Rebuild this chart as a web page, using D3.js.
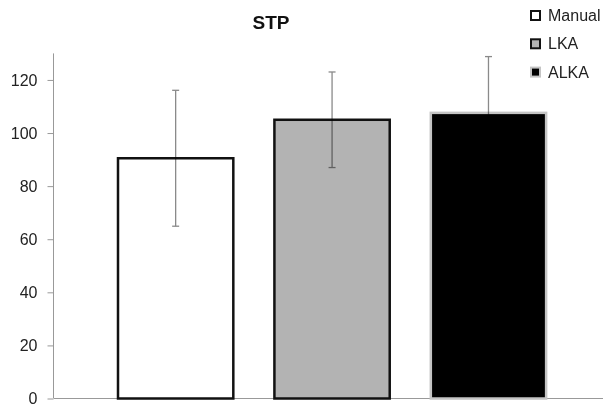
<!DOCTYPE html>
<html><head><meta charset="utf-8">
<script src="https://cdn.jsdelivr.net/npm/d3@7"></script>
<style>body{margin:0;background:#fff}svg{display:block;font-family:"Liberation Sans",Arial,sans-serif}</style>
</head><body><svg id="c" width="603" height="404"></svg>
<script>
const categories = ["Manual", "LKA", "ALKA"];
const means = [90.5, 105, 107.6];
const errors = [25.6, 18, 21.2];
const yTicks = [0, 20, 40, 60, 80, 100, 120];
const fills = ["#ffffff", "#b3b3b3", "#000000"];
const strokes = ["#111111", "#111111", "#c4c4c4"];

const svg = d3.select("#c");
const y = d3.scaleLinear().domain([0, 130]).range([398.5, 53.4]);
const x = d3.scaleBand().domain(categories).range([54, 603])
  .paddingInner(0.25).paddingOuter(0.38).align(0.53);

// y axis
const yAxis = svg.append("g").attr("transform", "translate(53.5,0)")
  .call(d3.axisLeft(y).tickValues(yTicks).tickSize(6).tickPadding(10));
yAxis.select(".domain").attr("stroke", "#999").attr("d", `M0,${y(130)}V${y(0)}`);
yAxis.selectAll(".tick line").attr("stroke", "#999");
yAxis.selectAll(".tick text").attr("font-size", 16).attr("fill", "#222")
  .attr("font-family", "Liberation Sans, Arial, sans-serif").attr("dy", "0.34em");

// x axis line
svg.append("line").attr("x1", 54).attr("x2", 603).attr("y1", y(0)).attr("y2", y(0))
  .attr("stroke", "#999");

// bars
svg.selectAll("rect.bar").data(categories).enter().append("rect")
  .attr("class", "bar")
  .attr("x", d => x(d) + 1)
  .attr("width", x.bandwidth() - 2)
  .attr("y", (d, i) => y(means[i]))
  .attr("height", (d, i) => y(0) - y(means[i]))
  .attr("fill", (d, i) => fills[i])
  .attr("stroke", (d, i) => strokes[i])
  .attr("stroke-width", 2.5);

// error bars (multiply blend: hidden over black, darker over grey)
const eg = svg.selectAll("g.err").data(categories).enter().append("g").attr("class", "err")
  .style("mix-blend-mode", "multiply");
eg.append("line")
  .attr("x1", d => x(d) + x.bandwidth() / 2).attr("x2", d => x(d) + x.bandwidth() / 2)
  .attr("y1", (d, i) => y(means[i] + errors[i])).attr("y2", (d, i) => y(means[i] - errors[i]))
  .attr("stroke", "#8a8a8a").attr("stroke-width", 1.3);
[1, -1].forEach(s => {
  eg.append("line")
    .attr("x1", d => x(d) + x.bandwidth() / 2 - 3.5).attr("x2", d => x(d) + x.bandwidth() / 2 + 3.5)
    .attr("y1", (d, i) => y(means[i] + s * errors[i])).attr("y2", (d, i) => y(means[i] + s * errors[i]))
    .attr("stroke", "#8a8a8a").attr("stroke-width", 1.3);
});

// title
svg.append("text").attr("x", 271).attr("y", 28.5).attr("text-anchor", "middle")
  .attr("font-size", 19).attr("font-weight", "bold").attr("fill", "#111").text("STP");

// legend
const lg = svg.selectAll("g.leg").data(categories).enter().append("g").attr("class", "leg")
  .attr("transform", (d, i) => `translate(531,${15.5 + i * 28.3})`);
lg.append("rect").attr("x", 0).attr("y", -4.5).attr("width", 9).attr("height", 9)
  .attr("fill", (d, i) => fills[i]).attr("stroke", (d, i) => strokes[i]).attr("stroke-width", 2);
lg.append("text").attr("x", 17).attr("y", 5.5).attr("font-size", 16).attr("fill", "#222").text(d => d);
</script></body></html>
